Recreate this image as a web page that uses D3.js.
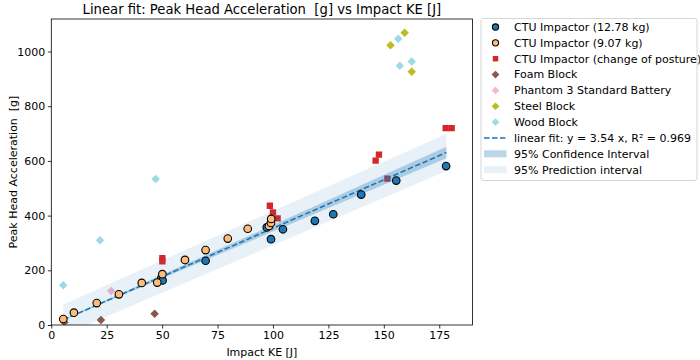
<!DOCTYPE html>
<html><head><meta charset="utf-8">
<script src="https://cdn.jsdelivr.net/npm/d3@7"></script>
<style>body{margin:0;background:#fff}svg{display:block;font-family:"DejaVu Sans",sans-serif}</style>
</head><body><svg id="c" width="700" height="360"></svg>
<script>
// ---- data ----
const ctu1278 = [[49.6,172],[50.2,163],[69.6,235],[97.2,357],[99.1,314],[104.5,350],[118.9,381],[127.2,405],[139.8,477],[155.6,528],[178.1,581]];
const ctu907 = [[5.4,22],[10.2,45],[20.5,80],[30.5,112],[40.8,154],[47.8,155],[50.1,186],[60.3,238],[69.6,274],[79.6,316],[88.6,352],[98.2,362],[99.1,373],[99.2,388]];
const ctuPosture = [[50.1,244],[50.1,233],[98.6,436],[100.0,412],[102.1,390],[146.3,601],[147.8,623],[151.6,535],[177.9,720],[180.6,720]];
const foam = [[5.9,10],[22.4,18],[46.6,41]];
const phantom = [[27.0,124],[60.5,232]];
const steel = [[153.0,1023],[159.4,1069],[162.6,926]];
const wood = [[5.4,145],[22.0,310],[47.1,534],[156.5,1047],[162.6,964],[157.2,948]];
const fitSlope = 3.54;
const bandX  = [5.4, 60, 120, 178.2];
const ciHalf = [1.5, 8, 14, 21];
const piHalf = [56, 60, 64, 68];
const xTicks = [0,25,50,75,100,125,150,175];
const yTicks = [0,200,400,600,800,1000];
const legendLabels = ["CTU Impactor (12.78 kg)","CTU Impactor (9.07 kg)","CTU Impactor (change of posture)","Foam Block","Phantom 3 Standard Battery","Steel Block","Wood Block","linear fit: y = 3.54 x, R² = 0.969","95% Confidence Interval","95% Prediction interval"];

// ---- chart ----
const svg = d3.select("#c");
const L=51.3,R=472.5,T=19,B=325;
const x = d3.scaleLinear([0,190],[L,R]);
const y = d3.scaleLinear([0,1119],[B,T]);
const g = svg.append("g");
svg.append("clipPath").attr("id","cp").append("rect").attr("x",L).attr("y",T).attr("width",R-L).attr("height",B-T);
const plot = g.append("g").attr("clip-path","url(#cp)");

const rhombus = {draw(ctx,size){const h=Math.sqrt(size/2);ctx.moveTo(0,-h);ctx.lineTo(h,0);ctx.lineTo(0,h);ctx.lineTo(-h,0);ctx.closePath();}};
const sq = d3.symbol().type(d3.symbolSquare).size(40);
const dia = d3.symbol().type(rhombus).size(36);
function syms(data, sym, fill){
  plot.append("g").selectAll("path").data(data).join("path")
    .attr("d", sym).attr("transform", d=>`translate(${x(d[0])},${y(d[1])})`).attr("fill", fill);
}
syms(ctuPosture, sq, "#d62728");
syms(foam, dia, "#8c564b");
syms(phantom, dia, "#f7b6d2");
syms(steel, dia, "#bcbd22");
syms(wood, dia, "#9edae5");

const bandRows = bandX.map((bx,i)=>({x:bx, c:fitSlope*bx, ci:ciHalf[i], pi:piHalf[i]}));
plot.append("path").datum(bandRows).attr("fill","#1f77b4").attr("fill-opacity",0.1)
  .attr("d", d3.area().x(d=>x(d.x)).y0(d=>y(d.c-d.pi)).y1(d=>y(d.c+d.pi)));
plot.append("path").datum(bandRows).attr("fill","#1f77b4").attr("fill-opacity",0.3)
  .attr("d", d3.area().x(d=>x(d.x)).y0(d=>y(d.c-d.ci)).y1(d=>y(d.c+d.ci)));
plot.append("path").datum([bandX[0], bandX[bandX.length-1]]).attr("fill","none").attr("stroke","#1f77b4")
  .attr("stroke-width",1.6).attr("stroke-dasharray","5.5,2.5")
  .attr("d", d3.line().x(d=>x(d)).y(d=>y(fitSlope*d)));

function circ(data, fill){
  plot.append("g").selectAll("circle").data(data).join("circle")
    .attr("cx", d=>x(d[0])).attr("cy", d=>y(d[1])).attr("r",3.8)
    .attr("fill", fill).attr("stroke","#000").attr("stroke-width",1.1);
}
circ(ctu1278, "#1f77b4");
circ(ctu907, "#ffbb78");

// axes
const xa = g.append("g").attr("transform",`translate(0,${B})`).call(d3.axisBottom(x).tickValues(xTicks).tickFormat(d3.format("d")).tickSize(3.5).tickPadding(2.5));
const ya = g.append("g").attr("transform",`translate(${L},0)`).call(d3.axisLeft(y).tickValues(yTicks).tickFormat(d3.format("d")).tickSize(3.5).tickPadding(2.5));
[xa,ya].forEach(a=>{a.select(".domain").remove();a.selectAll("text").attr("font-size",11).attr("fill","#000").attr("font-family","DejaVu Sans");a.selectAll("line").attr("stroke","#000").attr("stroke-width",0.8);});
g.append("rect").attr("x",L).attr("y",T).attr("width",R-L).attr("height",B-T).attr("fill","none").attr("stroke","#000").attr("stroke-width",0.8);

g.append("text").attr("x",(L+R)/2).attr("y",14).attr("text-anchor","middle").attr("font-size",13.2).style("white-space","pre").text("Linear fit: Peak Head Acceleration  [g] vs Impact KE [J]");
g.append("text").attr("x",(L+R)/2).attr("y",356).attr("text-anchor","middle").attr("font-size",11).text("Impact KE [J]");
g.append("text").attr("transform",`translate(17,${(T+B)/2}) rotate(-90)`).attr("text-anchor","middle").attr("font-size",11).style("white-space","pre").text("Peak Head Acceleration  [g]");

// legend
const lg = svg.append("g");
lg.append("rect").attr("x",481).attr("y",18.5).attr("width",216).attr("height",162).attr("rx",2.5).attr("fill","#fff").attr("fill-opacity",0.8).attr("stroke","#ccc").attr("stroke-width",0.8);
const ly = i=>27+i*15.85;
const mx = 495.5;
const items = [
  g=>g.append("circle").attr("r",3.1).attr("fill","#1f77b4").attr("stroke","#000").attr("stroke-width",1.1),
  g=>g.append("circle").attr("r",3.1).attr("fill","#ffbb78").attr("stroke","#000").attr("stroke-width",1.1),
  g=>g.append("path").attr("d",d3.symbol().type(d3.symbolSquare).size(30)).attr("fill","#d62728"),
  g=>g.append("path").attr("d",d3.symbol().type(rhombus).size(30)).attr("fill","#8c564b"),
  g=>g.append("path").attr("d",d3.symbol().type(rhombus).size(30)).attr("fill","#f7b6d2"),
  g=>g.append("path").attr("d",d3.symbol().type(rhombus).size(30)).attr("fill","#bcbd22"),
  g=>g.append("path").attr("d",d3.symbol().type(rhombus).size(30)).attr("fill","#9edae5"),
  g=>g.append("line").attr("x1",-11.5).attr("x2",11).attr("stroke","#1f77b4").attr("stroke-width",1.6).attr("stroke-dasharray","5.5,2.5"),
  g=>g.append("rect").attr("x",-11.5).attr("y",-3.5).attr("width",22.5).attr("height",7).attr("fill","#1f77b4").attr("fill-opacity",0.3),
  g=>g.append("rect").attr("x",-11.5).attr("y",-3.5).attr("width",22.5).attr("height",7).attr("fill","#1f77b4").attr("fill-opacity",0.1)
];
legendLabels.forEach((t,i)=>{
  const gi = lg.append("g").attr("transform",`translate(${mx},${ly(i)})`);
  items[i](gi);
  lg.append("text").attr("x",514).attr("y",ly(i)).attr("dy","0.35em").attr("font-size",11).text(t);
});
</script></body></html>
